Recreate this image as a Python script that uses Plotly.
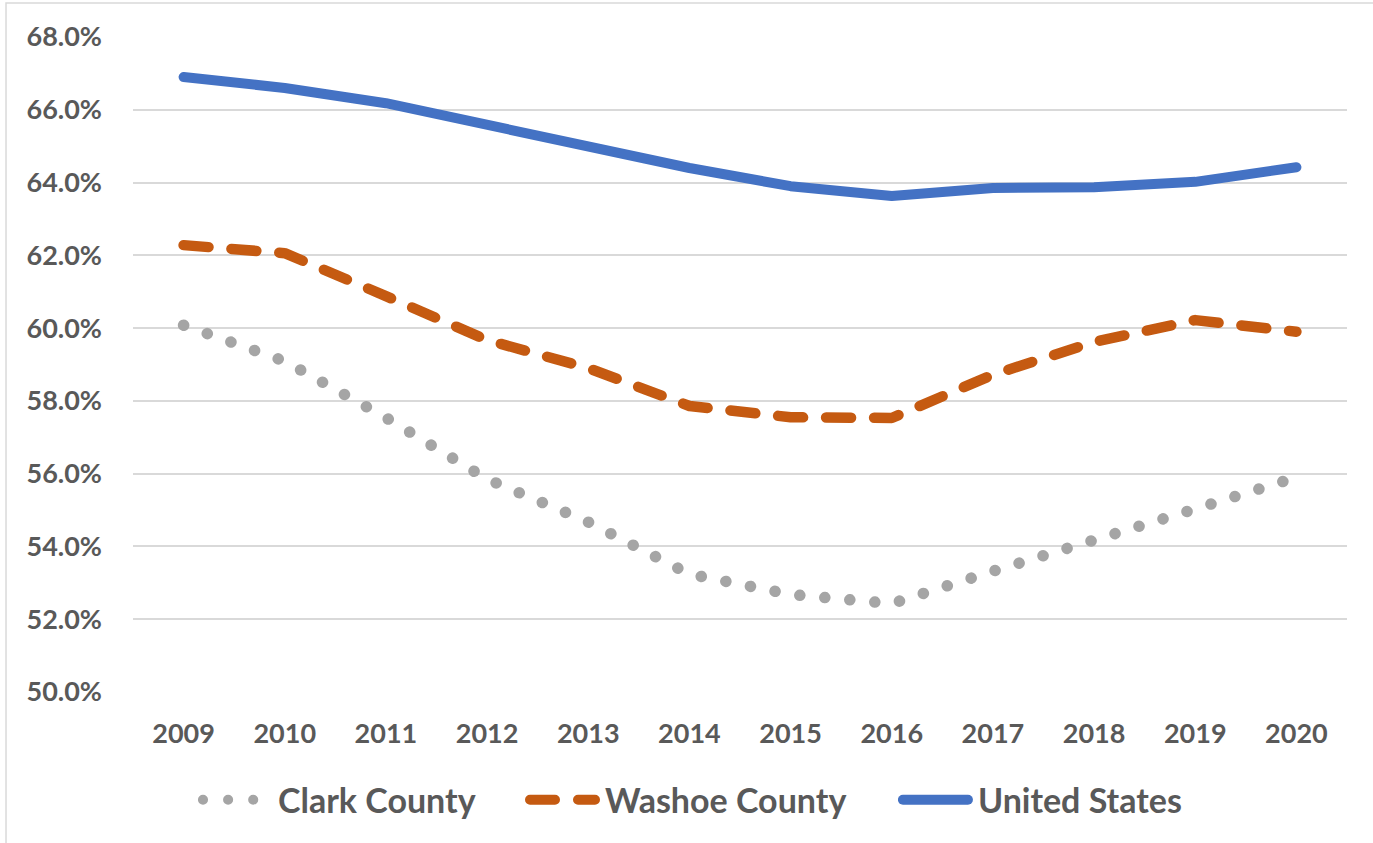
import plotly.graph_objects as go

# values (percent)
years = ["2009", "2010", "2011", "2012", "2013", "2014",
         "2015", "2016", "2017", "2018", "2019", "2020"]
clark = [60.08, 59.09, 57.54, 55.85, 54.67, 53.24, 52.68, 52.43, 53.32, 54.15, 55.03, 55.90]
washoe = [62.28, 62.06, 60.88, 59.67, 58.90, 57.86, 57.55, 57.53, 58.72, 59.62, 60.22, 59.90]
us = [66.90, 66.60, 66.18, 65.58, 64.97, 64.40, 63.90, 63.63, 63.85, 63.87, 64.02, 64.42]

y_ticks = [50, 52, 54, 56, 58, 60, 62, 64, 66, 68]
y_labels = [f"{v:.1f}%" for v in y_ticks]

FONT = "Lato"
TXT = "#595959"
GRID = "#D9D9D9"


def main():
    fig = go.Figure()

    fig.add_trace(go.Scatter(
        x=years, y=clark, name="Clark County", mode="lines", legend="legend",
        line=dict(color="#A5A5A5", width=11.5, dash="0.1px,25px"),
        hoverinfo="x+y+name"
    ))
    fig.add_trace(go.Scatter(
        x=years, y=washoe, name="Washoe County", mode="lines", legend="legend2",
        line=dict(color="#C55A11", width=10.5, dash="25px,23px"),
        hoverinfo="x+y+name"
    ))
    fig.add_trace(go.Scatter(
        x=years, y=us, name="United States", mode="lines", legend="legend3",
        line=dict(color="#4472C4", width=10),
        hoverinfo="x+y+name"
    ))

    # light chart-area border, mostly cropped like the original
    fig.add_shape(type="rect", xref="paper", yref="paper",
                  x0=-0.1046, x1=1.06, y0=-0.26, y1=1.0519,
                  line=dict(color=GRID, width=1.5), fillcolor="rgba(0,0,0,0)",
                  layer="below")

    leg_font = dict(family=FONT, color=TXT, size=34, weight="bold")
    leg_common = dict(orientation="h", xanchor="left", yanchor="middle",
                      y=-0.165, font=leg_font, bgcolor="rgba(0,0,0,0)",
                      itemwidth=70)

    fig.update_layout(
        width=1373, height=843,
        margin=dict(l=133, r=26, t=37, b=151),
        paper_bgcolor="white", plot_bgcolor="white",
        font=dict(family=FONT, color=TXT, size=28, weight="bold"),
        showlegend=True,
        legend=dict(x=0.0535, **leg_common),
        legend2=dict(x=0.3229, **leg_common),
        legend3=dict(x=0.6301, **leg_common),
        xaxis=dict(
            type="category", range=[-0.5, 11.5],
            showgrid=False, zeroline=False, showline=False,
            ticks="", ticklabelstandoff=23,
            tickfont=dict(family=FONT, color=TXT, size=27, weight="bold"),
        ),
        yaxis=dict(
            range=[50, 68], tickvals=y_ticks, ticktext=y_labels,
            showgrid=True, gridcolor=GRID, gridwidth=1.5,
            zeroline=False, showline=False, ticks="", ticklabelstandoff=30,
            tickfont=dict(family=FONT, color=TXT, size=27, weight="bold"),
        ),
        hovermode="closest",
    )

    # no page margin, round line caps and longer legend keys, as in the original
    post = """
document.body.style.margin = '0';
var gd = document.getElementById('{plot_id}');
gd.querySelectorAll('.scatterlayer .js-line, .legendlines path').forEach(function(p){
  p.style.strokeLinecap = 'round';
  p.style.strokeLinejoin = 'round';
});
gd.querySelectorAll('.legendlines path').forEach(function(p){
  p.setAttribute('d', 'M5,0h65');
});
"""
    fig.write_html("out.html", post_script=post,
                   config={"displayModeBar": False})


if __name__ == "__main__":
    main()
